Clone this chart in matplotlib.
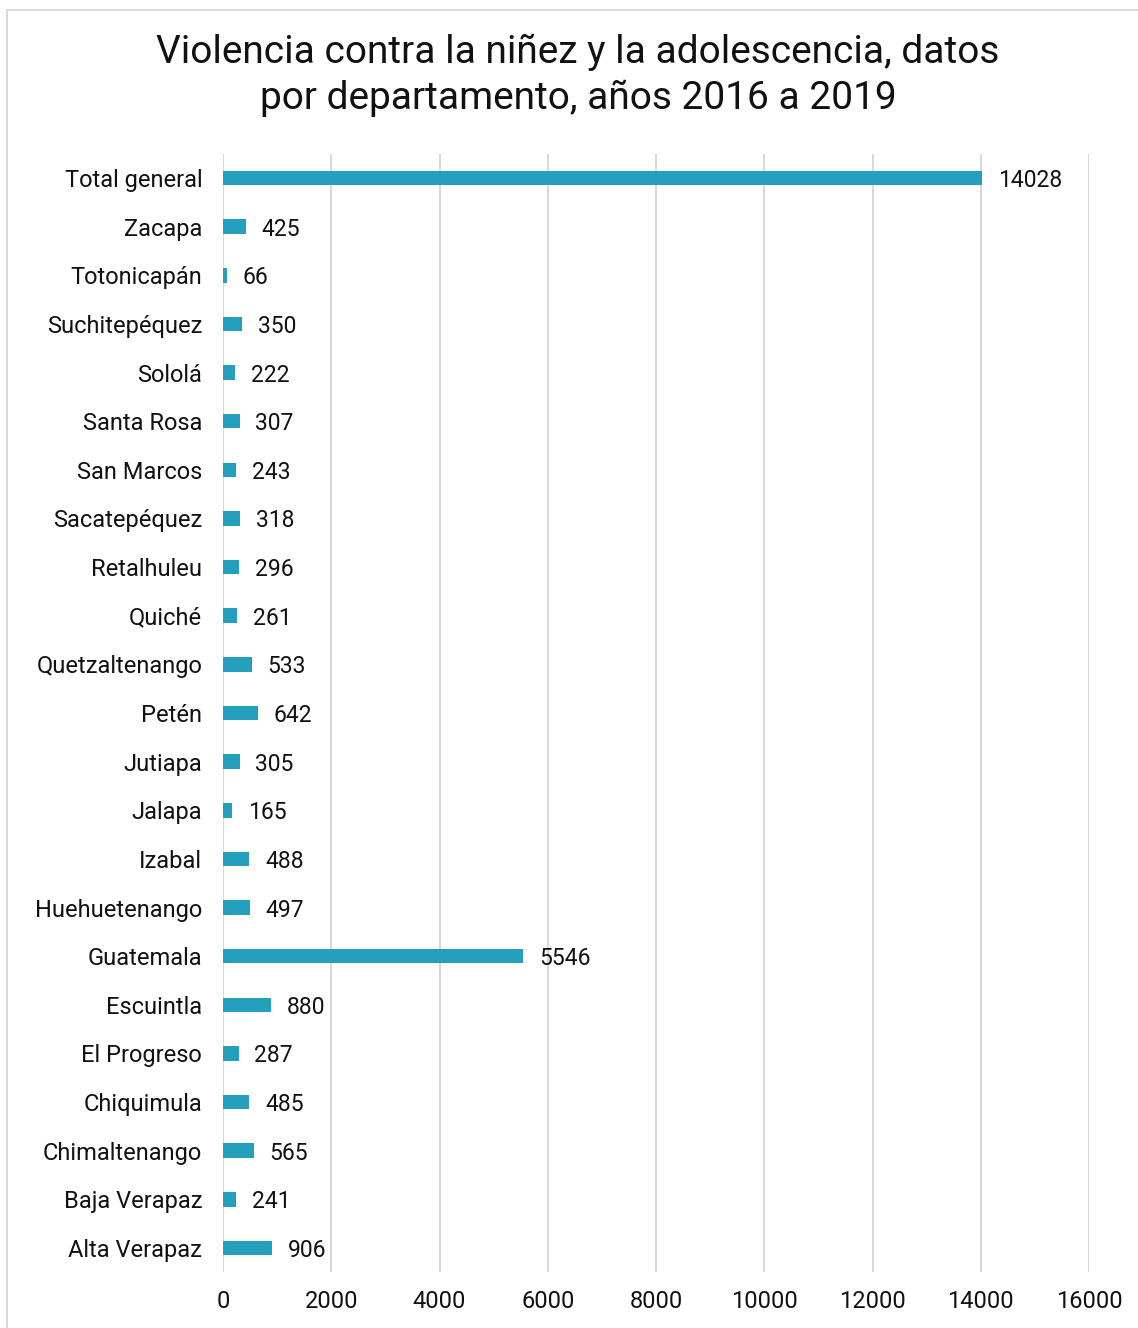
import matplotlib
matplotlib.use('Agg')
from matplotlib import pyplot as plt
from matplotlib.patches import Rectangle

# departments, listed bottom to top as they appear in the chart
departamentos = [
    'Alta Verapaz', 'Baja Verapaz', 'Chimaltenango', 'Chiquimula', 'El Progreso',
    'Escuintla', 'Guatemala', 'Huehuetenango', 'Izabal', 'Jalapa', 'Jutiapa',
    'Petén', 'Quetzaltenango', 'Quiché', 'Retalhuleu', 'Sacatepéquez',
    'San Marcos', 'Santa Rosa', 'Sololá', 'Suchitepéquez', 'Totonicapán',
    'Zacapa', 'Total general',
]
casos = [
    906, 241, 565, 485, 287, 880, 5546, 497, 488, 165, 305,
    642, 533, 261, 296, 318, 243, 307, 222, 350, 66, 425, 14028,
]
xticks = [0, 2000, 4000, 6000, 8000, 10000, 12000, 14000, 16000]

plt.rcParams['font.family'] = ['Roboto', 'DejaVu Sans']

fig = plt.figure(figsize=(11.38, 13.28), dpi=100)
# light frame round the chart area
fig.patches.append(Rectangle((7 / 1138, -0.01), 1.2, 1 - 10 / 1328 + 0.01,
                             transform=fig.transFigure, fill=False,
                             edgecolor='#d9d9d9', linewidth=1.5))

ax = fig.add_axes([0.196, 0.0419, 0.761, 0.8424])
y = list(range(len(departamentos)))
ax.barh(y, casos, height=0.3, color='#24a0be', zorder=3)

for yi, v in zip(y, casos):
    ax.text(v + 290, yi, str(v), va='center_baseline', ha='left',
            fontsize=16.5, color='#111111')

ax.set_xlim(0, 16000)
ax.set_ylim(-0.5, len(departamentos) - 0.5)
ax.set_yticks(y)
ax.set_yticklabels(departamentos, fontsize=17, color='#111111')
ax.set_xticks(xticks)
ax.set_xticklabels([str(t) for t in xticks], fontsize=17, color='#111111')
ax.tick_params(axis='y', length=0, pad=15)
ax.tick_params(axis='x', length=0, pad=13)
ax.grid(axis='x', color='#d9d9d9', linewidth=1.5, zorder=0)
for s in ax.spines.values():
    s.set_visible(False)

fig.text(0.508, 0.9435, 'Violencia contra la niñez y la adolescencia, datos\npor departamento, años 2016 a 2019',
         ha='center', va='center', fontsize=28, color='#111111', linespacing=1.3)

fig.savefig('out.png', dpi=100, facecolor='white')
